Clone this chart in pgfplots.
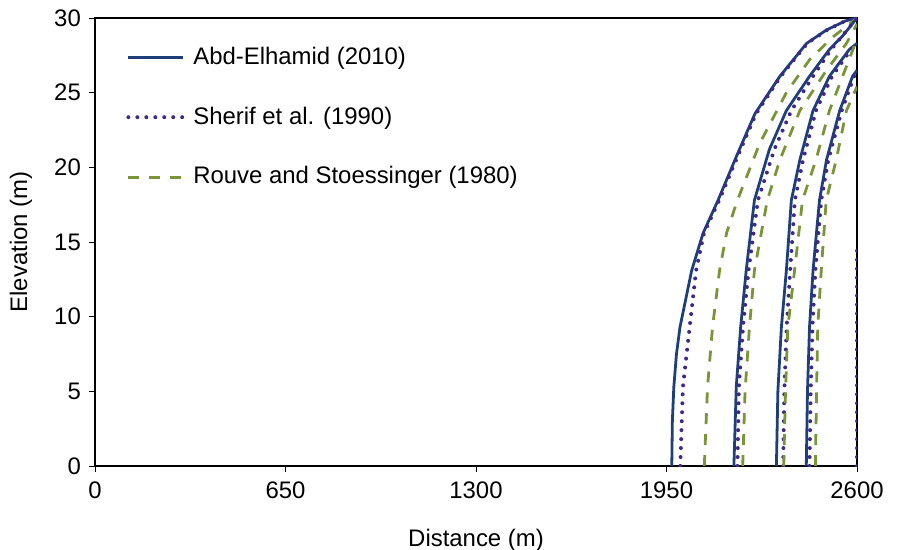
\documentclass[border=0pt]{standalone}
\usepackage{pgfplots}
\pgfplotsset{compat=1.18}
\usepackage{fontspec}
\setmainfont{Liberation Sans}

\definecolor{solidblue}{HTML}{1F3F78}
\definecolor{dotpurple}{HTML}{40288A}
\definecolor{dasholive}{HTML}{7A9438}

\newcommand{\chartfont}{\fontsize{24}{28}\selectfont}

\begin{document}
\chartfont
\begin{tikzpicture}
\begin{axis}[
  scale only axis,
  width=762bp, height=448bp,
  xmin=0, xmax=2600, ymin=0, ymax=30,
  xtick={0,650,1300,1950,2600},
  ytick={0,5,...,30},
  tick align=outside,
  major tick length=6bp,
  tick style={black, line width=0.6pt},
  axis line style={black, line width=2.2pt},
  /pgf/number format/assume math mode=true,
  /pgf/number format/1000 sep={},
  ticklabel style={font=\chartfont},
  xticklabel style={yshift=-2bp},
  label style={font=\chartfont},
  xlabel={Distance (m)},
  ylabel={Elevation (m)},
  xlabel style={yshift=-14bp},
  ylabel style={yshift=6bp},
  xtick pos=bottom, ytick pos=left,
  legend style={draw=none, fill=none, at={(0.037,0.945)}, anchor=north west,
    font=\chartfont, row sep=35bp,
    nodes={inner sep=2bp}},
  legend cell align=left,
  legend image code/.code={\draw[#1] (0bp,0bp) -- (55bp,0bp); \path (61bp,0bp);},
  clip mode=individual,
]
\coordinate (sw) at (rel axis cs:0,0);

% Abd-Elhamid (2010): four interface positions
\addplot[solidblue, line width=2.8pt, line join=round] coordinates {
 (1968,0) (1970,3) (1975,5.3) (1984,7.5) (1996,9.3) (2036,13.1) (2075,15.6) (2126,17.8)
 (2190,20.8) (2252,23.6) (2337,26.1) (2428,28.3) (2496,29.2) (2560,29.8) (2600,30)};
\addlegendentry{Abd-Elhamid (2010)}
\addplot[dotpurple, line width=4pt, line cap=round, dash pattern=on 0pt off 9pt] coordinates {
 (1997,0) (2006,5.3) (2029,9.3) (2051,13.1) (2078,15.6) (2130,17.8)
 (2194,20.8) (2256,23.6) (2340,26.1) (2430,28.3) (2498,29.2) (2560,29.8) (2600,30)};
\addlegendentry{Sherif et al. (1990)}
\addplot[dasholive, line width=2.8pt, dash pattern=on 11pt off 10pt] coordinates {
 (2079,0) (2090,5.3) (2107,9.3) (2131,13.1) (2155,15.6) (2192,17.8)
 (2268,21.6) (2359,25) (2438,27.2) (2516,28.7) (2600,30)};
\addlegendentry{Rouve and Stoessinger (1980)}

\addplot[solidblue, line width=2.8pt, line join=round, forget plot] coordinates {
 (2180,0) (2188,5.3) (2203,9.3) (2222,13.1) (2250,17.8) (2301,21.2)
 (2359,23.8) (2438,26.1) (2506,27.9) (2551,28.8) (2600,30)};
\addplot[solidblue, line width=2.8pt, line join=round, forget plot] coordinates {
 (2325,0) (2330,5) (2342,9.3) (2359,13.1) (2376,17.8) (2405,20.5)
 (2450,23.8) (2506,26.1) (2574,27.9) (2600,28.3)};
\addplot[solidblue, line width=2.8pt, line join=round, forget plot] coordinates {
 (2427,0) (2431,5) (2438,9.3) (2450,13.1) (2472,17.8) (2496,20.5)
 (2541,23.8) (2585,26.1) (2600,26.5)};

% Sherif et al. (1990)
\addplot[dotpurple, line width=4pt, line cap=round, dash pattern=on 0pt off 9pt, forget plot] coordinates {
 (2192,0) (2197,5.3) (2211,9.3) (2230,13.1) (2262,17.8) (2318,21.2)
 (2376,23.8) (2450,26.1) (2512,27.9) (2600,30)};
\addplot[dotpurple, line width=4pt, line cap=round, dash pattern=on 0pt off 9pt, forget plot] coordinates {
 (2348,0) (2352,5) (2360,9.3) (2372,13.1) (2388,17.8) (2416,20.5)
 (2460,23.8) (2515,26.1) (2580,27.9) (2600,28.3)};
\addplot[dotpurple, line width=4pt, line cap=round, dash pattern=on 0pt off 9pt, forget plot] coordinates {
 (2438,0) (2442,5) (2448,9.3) (2458,13.1) (2478,17.8) (2502,20.5)
 (2548,23.8) (2590,26.1) (2600,26.5)};
\addplot[dotpurple, line width=4pt, line cap=round, dash pattern=on 0pt off 9pt, forget plot] coordinates {
 (2600,0) (2600,14.7)};

% Rouve and Stoessinger (1980)
\addplot[dasholive, line width=2.8pt, dash pattern=on 11pt off 10pt, forget plot] coordinates {
 (2210,0) (2218,5) (2233,9.3) (2250,13.1) (2294,17.8) (2337,20.5)
 (2405,23.8) (2496,26.5) (2564,28.3) (2600,29.6)};
\addplot[dasholive, line width=2.8pt, dash pattern=on 11pt off 10pt, forget plot] coordinates {
 (2350,0) (2356,5) (2364,9.3) (2387,13.1) (2414,17.8) (2460,20.5)
 (2506,23.8) (2551,26.1) (2600,28.6)};
\addplot[dasholive, line width=2.8pt, dash pattern=on 11pt off 10pt, forget plot] coordinates {
 (2458,0) (2462,5) (2466,9.3) (2478,13.1) (2495,17.8) (2529,20.5)
 (2564,23.8) (2600,25.4)};
\end{axis}
\pgfresetboundingbox
\path ([shift={(-95bp,-84bp)}]sw) rectangle ++(897bp,550bp);
\end{tikzpicture}
\end{document}
